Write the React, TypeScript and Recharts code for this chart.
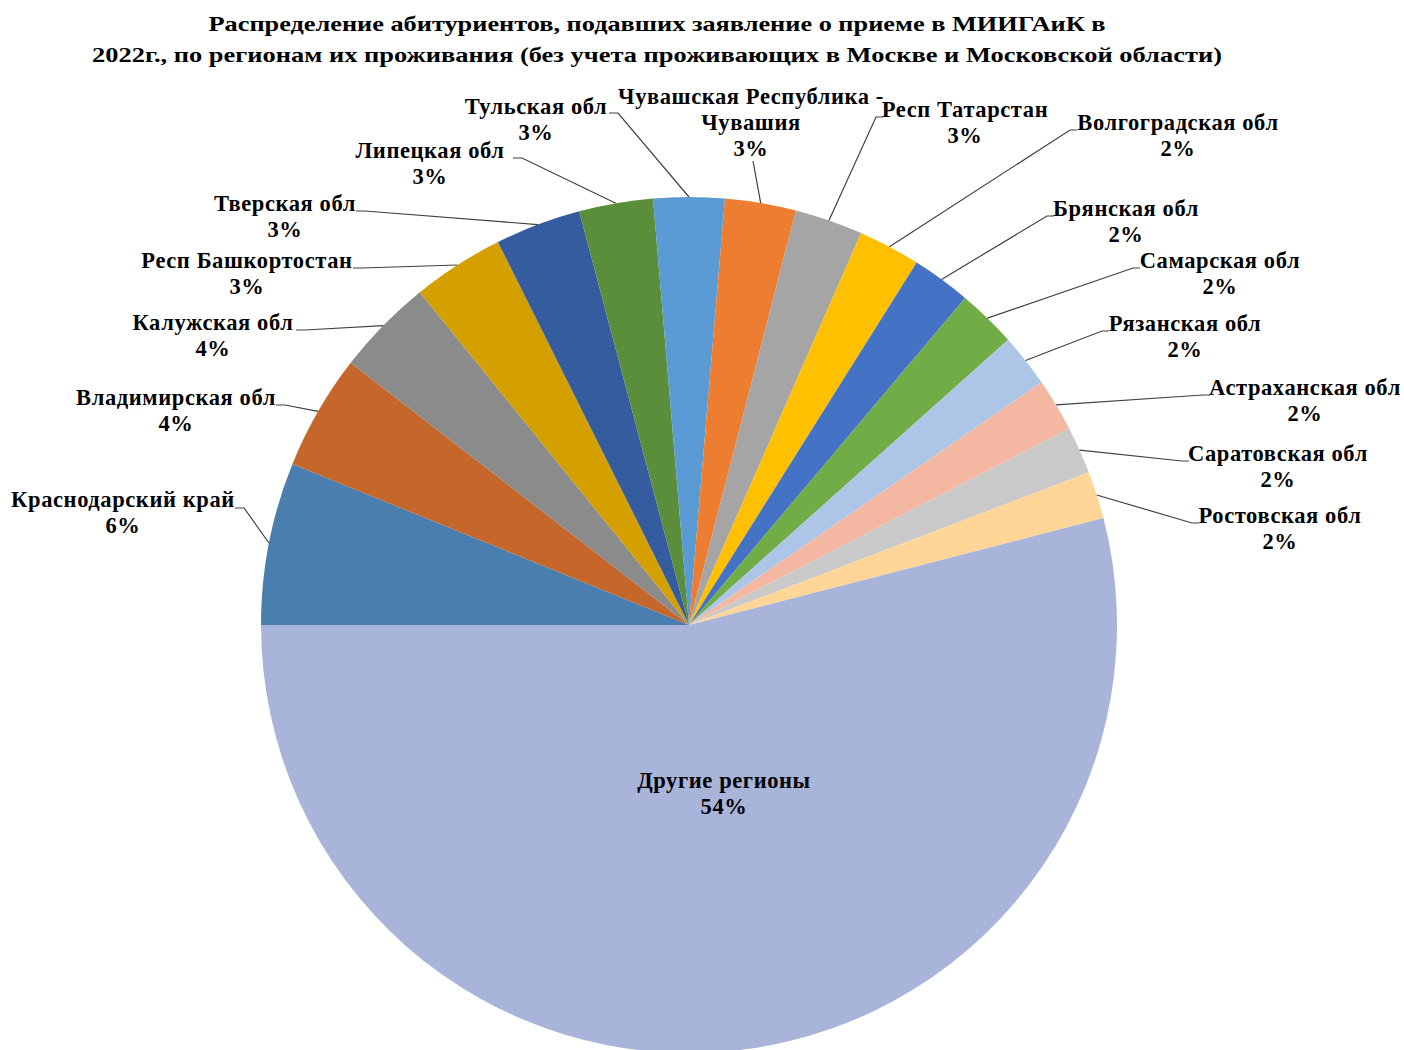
import React from "react";
import { PieChart, Pie, Cell } from "recharts";

// Regions, clockwise from 9 o'clock
const regions = [
  "Краснодарский край",
  "Владимирская обл",
  "Калужская обл",
  "Респ Башкортостан",
  "Тверская обл",
  "Липецкая обл",
  "Тульская обл",
  "Чувашская Республика - Чувашия",
  "Респ Татарстан",
  "Волгоградская обл",
  "Брянская обл",
  "Самарская обл",
  "Рязанская обл",
  "Астраханская обл",
  "Саратовская обл",
  "Ростовская обл",
  "Другие регионы",
];

// number of applicants
const applicants = [55, 39, 33, 31, 29, 25, 24, 24, 23, 21, 20, 20, 18, 18, 16, 16, 484];

const sliceColors = [
  "#4A7EAF", "#C5662B", "#8B8B8B", "#D4A000", "#355C9E", "#5A8E3A",
  "#5B9BD5", "#ED7D31", "#A5A5A5", "#FFC000", "#4472C4", "#70AD47",
  "#ADC5E7", "#F4B8A2", "#C9C9C9", "#FFD698", "#A8B4D9",
];

const titleLines = [
  "Распределение абитуриентов, подавших заявление о приеме в МИИГАиК в",
  "2022г., по регионам их проживания (без учета проживающих в Москве и  Московской области)",
];
const titleWidths = [897, 1130];

// label placement: text centre x, first line centre y, leader attach point, side
const labelLayout = [
  { x: 123, y: 500, ax: 235, ay: 508, side: "L" },
  { x: 176, y: 398, ax: 276, ay: 405, side: "L" },
  { x: 213, y: 323, ax: 296, ay: 330, side: "L" },
  { x: 247, y: 261, ax: 353, ay: 268, side: "L" },
  { x: 285, y: 204, ax: 356, ay: 211, side: "L" },
  { x: 430, y: 151, ax: 513, ay: 158, side: "L" },
  { x: 536, y: 107, ax: 609, ay: 113, side: "L" },
  { x: 751, y: 97, ax: 753, ay: 161, side: "B" },
  { x: 965, y: 110, ax: 883, ay: 117, side: "R" },
  { x: 1178, y: 123, ax: 1077, ay: 130, side: "R" },
  { x: 1126, y: 209, ax: 1054, ay: 216, side: "R" },
  { x: 1220, y: 261, ax: 1140, ay: 268, side: "R" },
  { x: 1185, y: 324, ax: 1109, ay: 331, side: "R" },
  { x: 1305, y: 388, ax: 1210, ay: 395, side: "R" },
  { x: 1278, y: 454, ax: 1189, ay: 461, side: "R" },
  { x: 1280, y: 516, ax: 1199, ay: 523, side: "R" },
  { x: 724, y: 781, ax: 0, ay: 0, side: "IN" },
];

const data = regions.map((name, i) => ({ name, value: applicants[i] }));

const FONT = '"Liberation Serif", "Times New Roman", serif';
const RADIAN = Math.PI / 180;
const LINE_H = 26;

function splitName(name: string) {
  const k = name.indexOf(" - ");
  if (k < 0) return [name];
  return [name.slice(0, k) + " -", name.slice(k + 3)];
}

function renderLabel(props: any) {
  const { cx, cy, midAngle, outerRadius, percent, index } = props;
  const lay = labelLayout[index];
  const lines = [...splitName(regions[index]), `${Math.round(percent * 100)}%`];
  const ex = cx + outerRadius * Math.cos(-midAngle * RADIAN);
  const ey = cy + outerRadius * Math.sin(-midAngle * RADIAN);
  let pts = "";
  if (lay.side === "L") pts = `${ex},${ey} ${lay.ax + 9},${lay.ay} ${lay.ax},${lay.ay}`;
  else if (lay.side === "R") pts = `${ex},${ey} ${lay.ax - 7},${lay.ay} ${lay.ax},${lay.ay}`;
  else if (lay.side === "B") pts = `${ex},${ey} ${lay.ax},${lay.ay}`;
  return (
    <g key={`lbl-${index}`}>
      {pts && <polyline points={pts} fill="none" stroke="#404040" strokeWidth={1.2} />}
      {lines.map((t, j) => (
        <text
          key={j}
          x={lay.x}
          y={lay.y + 7 + j * LINE_H}
          textAnchor="middle"
          fontFamily={FONT}
          fontWeight="bold"
          fontSize={22.5}
          letterSpacing={0.6}
          fill="#000"
        >
          {t}
        </text>
      ))}
    </g>
  );
}

export default function App() {
  return (
    <div style={{ position: "absolute", left: 0, top: 0, width: 1404, height: 1050, background: "#fff" }}>
      <PieChart width={1404} height={1050} margin={{ top: 0, right: 0, bottom: 0, left: 0 }}>
        <Pie
          data={data}
          dataKey="value"
          nameKey="name"
          cx={689}
          cy={625}
          outerRadius={428}
          startAngle={180}
          endAngle={-180}
          stroke="none"
          label={renderLabel}
          labelLine={false}
          isAnimationActive={false}
        >
          {data.map((d, i) => (
            <Cell key={d.name} fill={sliceColors[i]} />
          ))}
        </Pie>
      </PieChart>
      <svg width={1404} height={80} style={{ position: "absolute", left: 0, top: 0 }}>
        {titleLines.map((t, i) => (
          <text
            key={i}
            x={657}
            y={31 + i * 31}
            textAnchor="middle"
            fontFamily={FONT}
            fontWeight="bold"
            fontSize={22}
            textLength={titleWidths[i]}
            lengthAdjust="spacingAndGlyphs"
            fill="#000"
          >
            {t}
          </text>
        ))}
      </svg>
    </div>
  );
}
